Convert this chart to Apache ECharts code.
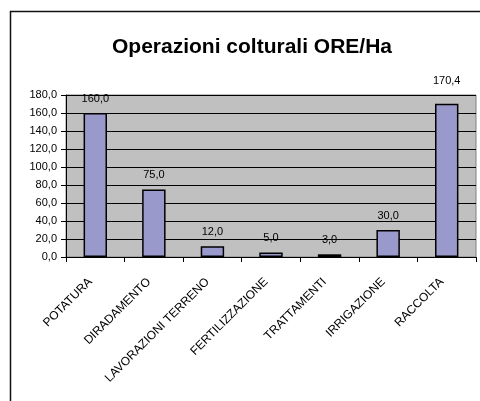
<!DOCTYPE html>
<html>
<head>
<meta charset="utf-8" />
<title>Operazioni colturali</title>
<script src="https://cdn.jsdelivr.net/npm/echarts@6/dist/echarts.min.js"></script>
<style>
  html, body { margin: 0; padding: 0; background: #fff; }
  #chart { width: 480px; height: 401px; }
</style>
</head>
<body>
<div id="chart"></div>
<script>
var categories = ['POTATURA', 'DIRADAMENTO', 'LAVORAZIONI TERRENO', 'FERTILIZZAZIONE', 'TRATTAMENTI', 'IRRIGAZIONE', 'RACCOLTA'];
var values = [160.0, 75.0, 12.0, 5.0, 3.0, 30.0, 170.4];

function fmt(v) {
  return Number(v).toFixed(1).replace('.', ',');
}

var chart = echarts.init(document.getElementById('chart'));

var option = {
  animation: false,
  textStyle: { fontFamily: 'Liberation Sans, Arial, sans-serif' },
  title: {
    text: 'Operazioni colturali ORE/Ha',
    left: 247,
    textAlign: 'center',
    top: 32,
    textStyle: { fontSize: 21, fontWeight: 'bold', color: '#000', fontFamily: 'Liberation Sans, Arial, sans-serif' }
  },
  graphic: [{
    type: 'rect',
    shape: { x: 10.5, y: 11.5, width: 480, height: 400 },
    style: { fill: 'none', stroke: '#111', lineWidth: 1.5 },
    silent: true
  }],
  grid: {
    left: 66, top: 95, right: 4, bottom: 144,
    show: true,
    backgroundColor: '#c0c0c0',
    borderColor: '#808080',
    borderWidth: 1
  },
  xAxis: {
    type: 'category',
    data: categories,
    axisLine: { lineStyle: { color: '#000', width: 1 } },
    axisTick: { show: true, alignWithLabel: false, length: 5, lineStyle: { color: '#000' } },
    axisLabel: {
      rotate: 45,
      interval: 0,
      margin: 18,
      padding: [0, 7, 0, 0],
      fontSize: 12,
      color: '#000',
      fontFamily: 'Liberation Sans, Arial, sans-serif'
    }
  },
  yAxis: {
    type: 'value',
    min: 0,
    max: 180,
    interval: 20,
    axisLine: { show: true, lineStyle: { color: '#000', width: 1 } },
    axisTick: { show: true, length: 5, lineStyle: { color: '#000' } },
    splitLine: { show: true, lineStyle: { color: '#000', width: 1 } },
    axisLabel: {
      fontSize: 11,
      color: '#000',
      margin: 9,
      formatter: fmt,
      fontFamily: 'Liberation Sans, Arial, sans-serif'
    }
  },
  series: [{
    type: 'bar',
    barWidth: '40%',
    data: values.map(function (v, i) {
      var d = { value: v };
      if (i === values.length - 1) {
        d.label = { offset: [0, -8] };
      }
      return d;
    }),
    itemStyle: { color: '#9999cc', borderColor: '#000', borderWidth: 1.5 },
    label: {
      show: true,
      position: 'top',
      distance: 9,
      fontSize: 11,
      color: '#000',
      formatter: function (p) { return fmt(p.value); },
      fontFamily: 'Liberation Sans, Arial, sans-serif'
    }
  }]
};

chart.setOption(option);
</script>
</body>
</html>
